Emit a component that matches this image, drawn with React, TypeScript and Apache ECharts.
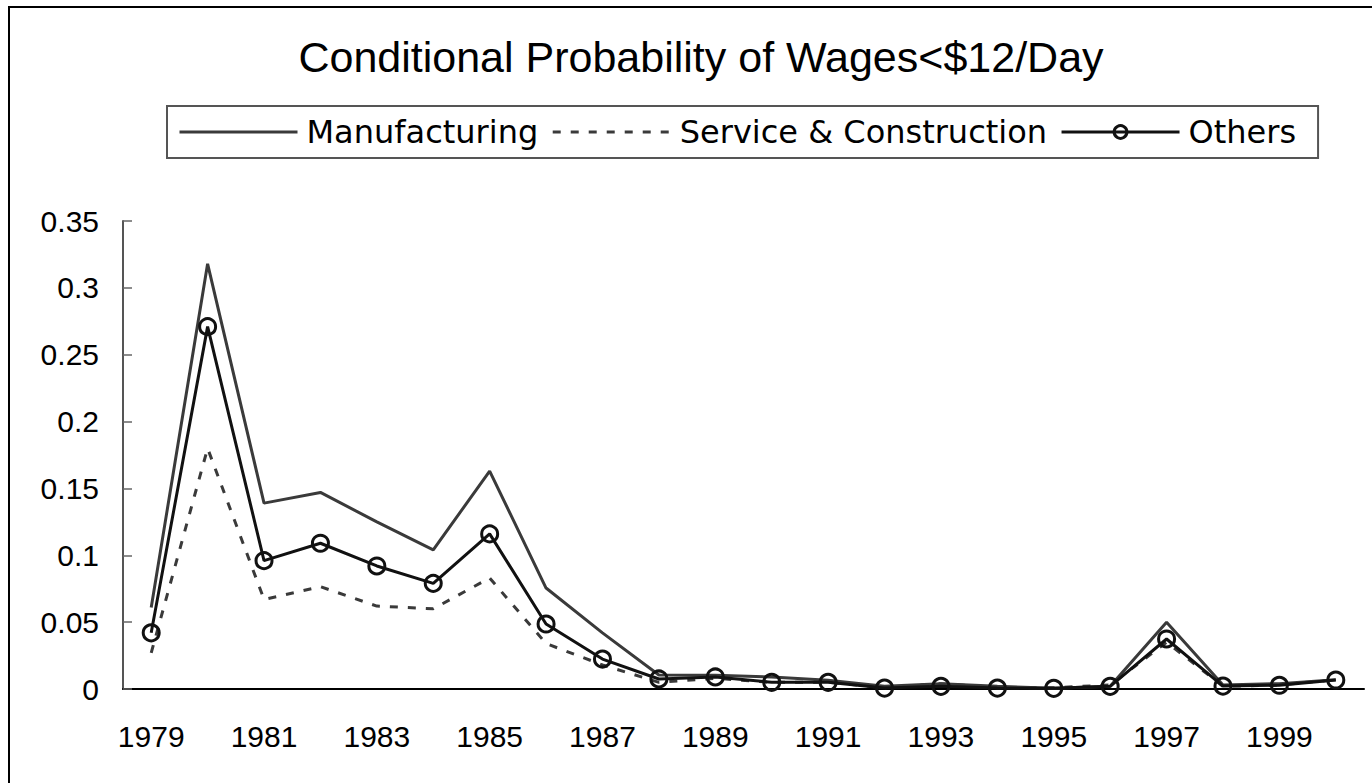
import React, { useEffect, useRef } from "react";
import * as echarts from "echarts";

const years = [
  "1979", "1980", "1981", "1982", "1983", "1984", "1985", "1986", "1987", "1988", "1989",
  "1990", "1991", "1992", "1993", "1994", "1995", "1996", "1997", "1998", "1999", "2000",
];
const manufacturing = [
  0.061, 0.318, 0.139, 0.147, 0.125, 0.104, 0.163, 0.0755, 0.042, 0.0105, 0.0103,
  0.009, 0.0065, 0.002, 0.004, 0.002, 0.0005, 0.002, 0.05, 0.003, 0.004, 0.007,
];
const serviceConstruction = [
  0.027, 0.18, 0.067, 0.0765, 0.062, 0.06, 0.083, 0.034, 0.018, 0.005, 0.008,
  0.005, 0.005, 0.001, 0.004, 0.001, 0.001, 0.003, 0.035, 0.002, 0.003, 0.007,
];
const others = [
  0.042, 0.271, 0.096, 0.109, 0.092, 0.079, 0.116, 0.0486, 0.0224, 0.0075, 0.009,
  0.005, 0.005, 0.0007, 0.002, 0.0007, 0.0005, 0.002, 0.0374, 0.0022, 0.0028, 0.0067,
];
const titleText = "Conditional Probability of Wages<$12/Day";
const seriesNames = ["Manufacturing", "Service & Construction", "Others"];

export default function App() {
  const ref = useRef<HTMLDivElement>(null);
  useEffect(() => {
    if (!ref.current) return;
    const chart = echarts.init(ref.current, undefined, { renderer: "svg" });
    const hiddenSymbol = { color: "rgba(0,0,0,0)", borderWidth: 0, opacity: 0 };
    const dash = [8, 10];
    chart.setOption({
      animation: false,
      backgroundColor: "#fff",
      title: {
        text: titleText,
        left: 696,
        textAlign: "center",
        top: 30,
        textStyle: {
          fontFamily: "Liberation Sans, Arial, sans-serif",
          fontSize: 43,
          fontWeight: "normal",
          color: "#000",
        },
      },
      graphic: [
        {
          type: "rect",
          silent: true,
          shape: { x: 9, y: 7, width: 2000, height: 2000 },
          style: { fill: "none", stroke: "#000", lineWidth: 2 },
        },
      ],
      legend: {
        left: 167,
        top: 106,
        padding: [10, 22, 10, 11],
        itemGap: 13,
        itemWidth: 118,
        itemHeight: 16,
        borderColor: "#555",
        borderWidth: 2,
        data: [
          {
            name: seriesNames[0],
            itemStyle: hiddenSymbol,
            lineStyle: { color: "#3a3a3a", width: 3, type: "solid" },
          },
          {
            name: seriesNames[1],
            itemStyle: hiddenSymbol,
            lineStyle: { color: "#3a3a3a", width: 3, type: dash },
          },
          {
            name: seriesNames[2],
            itemStyle: { color: "rgba(0,0,0,0)", borderColor: "#111", borderWidth: 3 },
            lineStyle: { color: "#111", width: 3, type: "solid" },
          },
        ],
        textStyle: {
          fontFamily: "DejaVu Sans, sans-serif",
          fontSize: 32,
          color: "#000",
          padding: [0, 0, 0, 4],
        },
      },
      grid: { left: 123, right: 8, top: 221, bottom: 94, containLabel: false },
      xAxis: {
        type: "category",
        data: years,
        boundaryGap: true,
        axisLine: { lineStyle: { color: "#000", width: 2 } },
        axisTick: { inside: true, length: 9, interval: 0, lineStyle: { color: "#666", width: 1.5 } },
        axisLabel: {
          interval: 1,
          margin: 32,
          fontFamily: "Liberation Sans, Arial, sans-serif",
          fontSize: 30,
          color: "#000",
        },
        splitLine: { show: false },
      },
      yAxis: {
        type: "value",
        min: 0,
        max: 0.35,
        interval: 0.05,
        axisLine: { show: true, lineStyle: { color: "#555", width: 2 } },
        axisTick: { show: true, inside: true, length: 9, lineStyle: { color: "#666", width: 1.5 } },
        axisLabel: {
          margin: 24,
          fontFamily: "Liberation Sans, Arial, sans-serif",
          fontSize: 30,
          color: "#000",
        },
        splitLine: { show: false },
      },
      series: [
        {
          name: seriesNames[0],
          type: "line",
          data: manufacturing,
          symbol: "none",
          showSymbol: false,
          color: "#3a3a3a",
          lineStyle: { color: "#3a3a3a", width: 3 },
          z: 2,
        },
        {
          name: seriesNames[1],
          type: "line",
          data: serviceConstruction,
          symbol: "none",
          showSymbol: false,
          color: "#3a3a3a",
          lineStyle: { color: "#3a3a3a", width: 3, type: dash },
          z: 3,
        },
        {
          name: seriesNames[2],
          type: "line",
          data: others,
          symbol: "circle",
          symbolSize: 16,
          color: "#111",
          lineStyle: { color: "#111", width: 3 },
          itemStyle: { color: "rgba(0,0,0,0)", borderColor: "#111", borderWidth: 3 },
          z: 4,
        },
      ],
    });
    return () => chart.dispose();
  }, []);
  return (
    <div
      ref={ref}
      style={{ position: "absolute", left: 0, top: 0, width: 1372, height: 783 }}
    />
  );
}
